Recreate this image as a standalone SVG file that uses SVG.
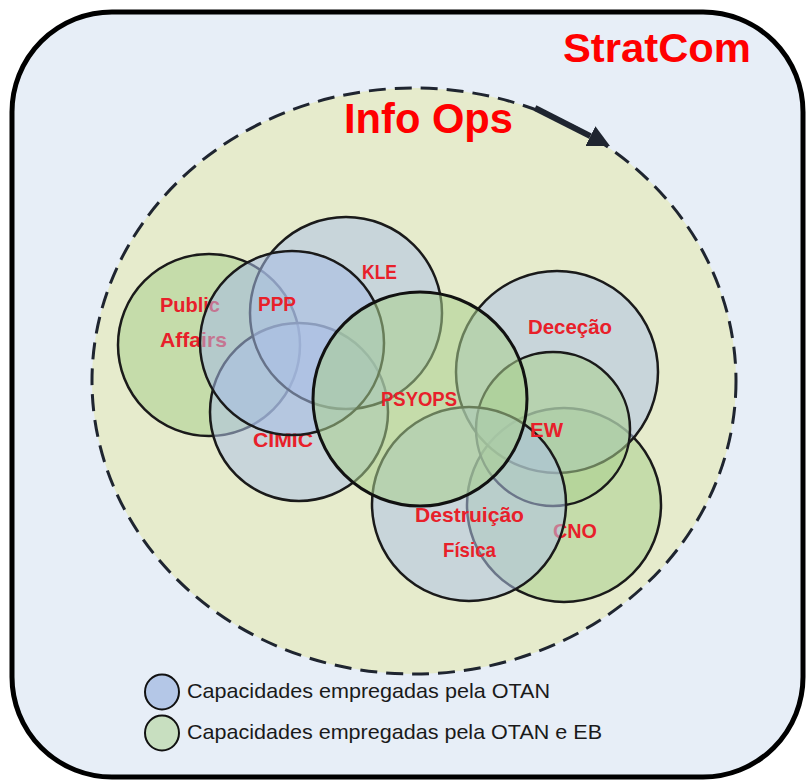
<svg xmlns="http://www.w3.org/2000/svg" width="806" height="780" viewBox="0 0 806 780">
  <defs>
    <style>
      .cap { stroke: #1a1a1a; stroke-width: 2.5; }
      .green { fill: #A9D08E; fill-opacity: 0.55; }
      .grey { fill: #AEC2E6; fill-opacity: 0.55; }
      .blue { fill: #A6BCE6; fill-opacity: 0.55; }
      .lbl { font-family: "Liberation Sans", Arial, sans-serif; font-weight: bold; font-size: 21px; fill: #E8202A; }
      .title { font-family: "Liberation Sans", Arial, sans-serif; font-weight: bold; fill: #FF0000; }
      .leg { font-family: "Liberation Sans", Arial, sans-serif; font-size: 21px; fill: #1a1a1a; }
    </style>
    <marker id="arrowhead" viewBox="0 0 22 22" markerWidth="22" markerHeight="22" refX="0" refY="11" orient="auto" markerUnits="userSpaceOnUse">
      <path d="M0,0 L22,11 L0,22 z" fill="#1F2530"/>
    </marker>
  </defs>

  <g id="stratcom">
    <rect x="12" y="12" width="791" height="765" rx="100" ry="100" fill="#E7EEF7" stroke="#000" stroke-width="5"/>
    <text class="title" x="563" y="62" font-size="41" textLength="188" lengthAdjust="spacingAndGlyphs">StratCom</text>
  </g>

  <g id="infoops">
    <ellipse cx="414" cy="381" rx="322" ry="293" fill="#E6EBCC" stroke="#1F2530" stroke-width="3" stroke-dasharray="17 9"/>
    <text class="title" x="344" y="133" font-size="42" textLength="169" lengthAdjust="spacingAndGlyphs">Info Ops</text>
  </g>

  <g id="connectors">
    <line x1="535" y1="108" x2="590.4" y2="136.1" stroke="#1F2530" stroke-width="6" marker-end="url(#arrowhead)"/>
  </g>

  <g id="public-affairs">
    <circle class="cap green" cx="209" cy="345" r="91"/>
    <text class="lbl" x="160" y="312" textLength="60" lengthAdjust="spacingAndGlyphs">Public</text>
    <text class="lbl" x="160" y="347" textLength="67" lengthAdjust="spacingAndGlyphs">Affairs</text>
  </g>

  <g id="cimic">
    <circle class="cap grey" cx="299" cy="412" r="89"/>
    <text class="lbl" x="253" y="447" textLength="60" lengthAdjust="spacingAndGlyphs">CIMIC</text>
  </g>

  <g id="kle">
    <circle class="cap grey" cx="346" cy="313" r="96"/>
    <text class="lbl" x="362" y="279" textLength="35" lengthAdjust="spacingAndGlyphs">KLE</text>
  </g>

  <g id="ppp">
    <circle class="cap blue" cx="292" cy="343" r="92"/>
    <text class="lbl" x="258" y="311" textLength="38" lengthAdjust="spacingAndGlyphs">PPP</text>
  </g>

  <g id="cno">
    <circle class="cap green" cx="564" cy="505" r="97"/>
    <text class="lbl" x="553" y="538" textLength="44" lengthAdjust="spacingAndGlyphs">CNO</text>
  </g>

  <g id="decepcao">
    <circle class="cap grey" cx="557" cy="372" r="101"/>
    <text class="lbl" x="528" y="334" textLength="84" lengthAdjust="spacingAndGlyphs">Deceção</text>
  </g>

  <g id="ew">
    <circle class="cap green" cx="553" cy="429" r="77"/>
  </g>

  <g id="destruicao-fisica">
    <circle class="cap grey" cx="469" cy="504" r="97"/>
    <text class="lbl" x="415" y="522" textLength="109" lengthAdjust="spacingAndGlyphs">Destruição</text>
    <text class="lbl" x="443" y="557" textLength="53" lengthAdjust="spacingAndGlyphs">Física</text>
  </g>

  <g id="psyops">
    <circle class="green" cx="420" cy="399" r="107" stroke="#111" stroke-width="3"/>
    <text class="lbl" x="381" y="406" textLength="76" lengthAdjust="spacingAndGlyphs">PSYOPS</text>
  </g>

  <g id="ew-label">
    <text class="lbl" x="530" y="437" textLength="33" lengthAdjust="spacingAndGlyphs">EW</text>
  </g>

  <g id="legend">
    <ellipse cx="162" cy="692" rx="17" ry="17.5" fill="#B4C7E7" stroke="#111" stroke-width="2"/>
    <text class="leg" x="187" y="698" textLength="363" lengthAdjust="spacingAndGlyphs">Capacidades empregadas pela OTAN</text>
    <ellipse cx="162" cy="733" rx="17" ry="17.5" fill="#C8DFC0" stroke="#111" stroke-width="2"/>
    <text class="leg" x="187" y="739" textLength="415" lengthAdjust="spacingAndGlyphs">Capacidades empregadas pela OTAN e EB</text>
  </g>
</svg>
